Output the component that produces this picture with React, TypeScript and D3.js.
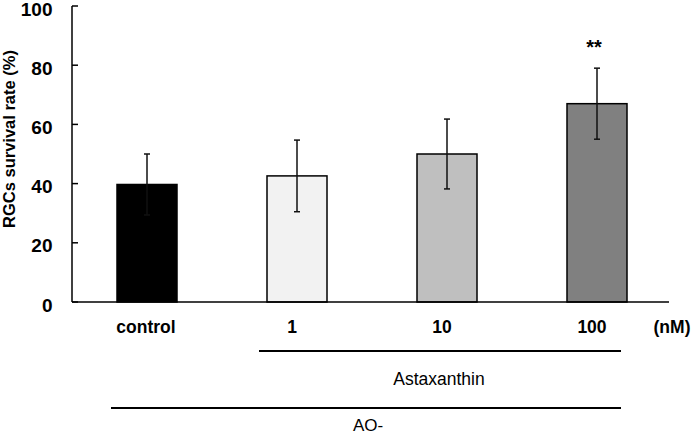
import React from 'react';
import { scaleBand, scaleLinear } from 'd3';

const categories = ['control', '1', '10', '100'];
const means = [39.7, 42.6, 50.0, 67.0];
const errors = [10.3, 12.1, 11.8, 12.0];
const fills = ['#000000', '#f2f2f2', '#bfbfbf', '#808080'];
const yTicks = [0, 20, 40, 60, 80, 100];
const significance = ['', '', '', '**'];

const width = 691;
const height = 435;
const margin = { left: 72, right: 19, top: 6, bottom: 133 };
const font = 'Liberation Sans, Arial, sans-serif';

const App = () => {
  const x = scaleBand<string>()
    .domain(categories)
    .range([margin.left, width - margin.right])
    .paddingInner(0.6)
    .paddingOuter(0.3);

  const y = scaleLinear()
    .domain([0, 100])
    .range([height - margin.bottom, margin.top]);

  const y0 = y(0);
  const cx = (c: string) => (x(c) ?? 0) + x.bandwidth() / 2;

  return (
    <svg width={width} height={height} style={{ position: 'absolute', left: 0, top: 0, background: '#fff' }}>
      {/* bars */}
      {categories.map((c, i) => (
        <rect
          key={c}
          x={x(c)}
          y={y(means[i])}
          width={x.bandwidth()}
          height={y0 - y(means[i])}
          fill={fills[i]}
          stroke="#000"
          strokeWidth={1.5}
        />
      ))}

      {/* error bars */}
      {categories.map((c, i) => {
        const hi = y(means[i] + errors[i]);
        const lo = y(means[i] - errors[i]);
        return (
          <g key={c} stroke="#111" strokeWidth={1.5}>
            <line x1={cx(c)} x2={cx(c)} y1={hi} y2={lo} />
            <line x1={cx(c) - 3} x2={cx(c) + 3} y1={hi} y2={hi} />
            <line x1={cx(c) - 3} x2={cx(c) + 3} y1={lo} y2={lo} />
          </g>
        );
      })}

      {/* significance */}
      {categories.map((c, i) =>
        significance[i] ? (
          <text key={c} x={cx(c) - 3} y={y(means[i] + errors[i]) - 14} textAnchor="middle"
            fontFamily={font} fontWeight="bold" fontSize={20}>
            {significance[i]}
          </text>
        ) : null
      )}

      {/* y axis */}
      <line x1={margin.left} x2={margin.left} y1={y(100)} y2={y0} stroke="#000" strokeWidth={1.5} />
      {yTicks.map(t => (
        <g key={t}>
          <line x1={margin.left} x2={margin.left + 6} y1={y(t)} y2={y(t)} stroke="#000" strokeWidth={1.5} />
          <text x={margin.left - 19.5} y={y(t) + 9.5} textAnchor="end"
            fontFamily={font} fontWeight="bold" fontSize={19}>
            {t}
          </text>
        </g>
      ))}
      <text transform={`translate(15, ${(y(100) + y0) / 2 - 15}) rotate(-90)`} textAnchor="middle"
        fontFamily={font} fontWeight="bold" fontSize={16.5}>
        RGCs survival rate (%)
      </text>

      {/* x axis */}
      <line x1={margin.left} x2={width - margin.right - 3} y1={y0} y2={y0} stroke="#000" strokeWidth={1.5} />
      {categories.map((c, i) => (
        <text key={c} x={cx(c) - (i === 0 ? 1 : 5)} y={y0 + 31} textAnchor="middle"
          fontFamily={font} fontWeight="bold" fontSize={17.5}>
          {c}
        </text>
      ))}
      <text x={672} y={y0 + 31} textAnchor="middle" fontFamily={font} fontWeight="bold" fontSize={17.5}>
        (nM)
      </text>

      {/* group brackets */}
      <line x1={cx('1') - 38} x2={cx('100') + 24} y1={y0 + 49} y2={y0 + 49} stroke="#000" strokeWidth={2} />
      <text x={439} y={y0 + 83} textAnchor="middle" fontFamily={font} fontSize={17.5}>
        Astaxanthin
      </text>
      <line x1={cx('control') - 36} x2={cx('100') + 24} y1={y0 + 106} y2={y0 + 106} stroke="#000" strokeWidth={2} />
      <text x={368} y={y0 + 129} textAnchor="middle" fontFamily={font} fontSize={17}>
        AO-
      </text>
    </svg>
  );
};

export default App;
